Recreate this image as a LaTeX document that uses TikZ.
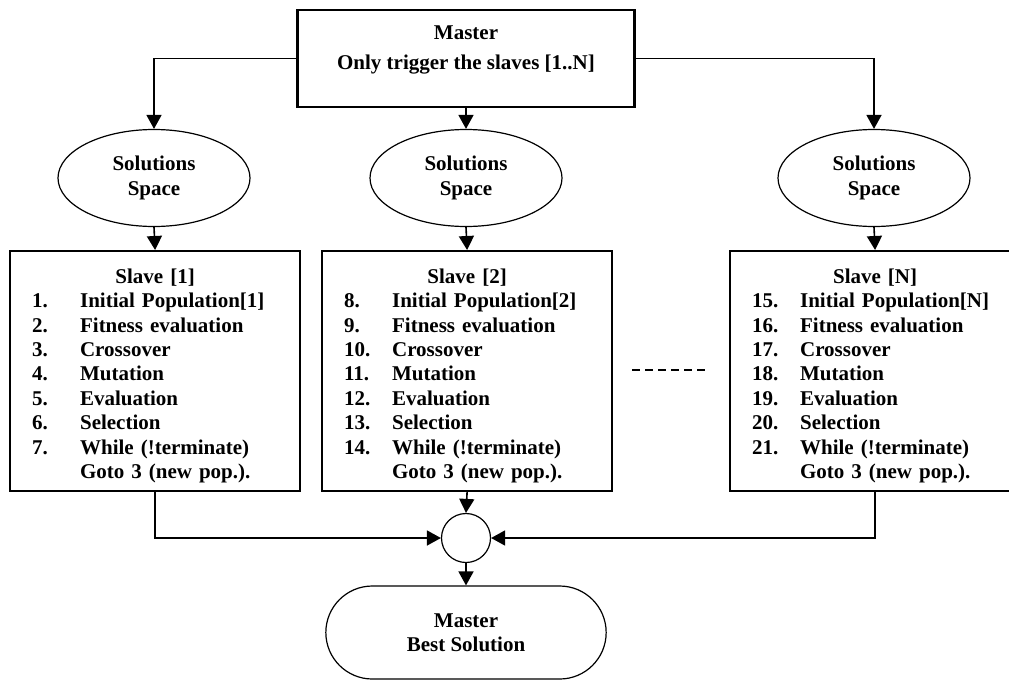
\documentclass[tikz,border=0pt]{standalone}
\usepackage{fontspec}
\setmainfont{Liberation Serif}
\usepackage{tikz}
\usetikzlibrary{arrows.meta,shapes.geometric,shapes.misc,positioning}
\tikzset{
  arr/.style={line width=1.6pt, -{Triangle[length=14pt,width=15pt]}},
  solspace/.style={draw, ellipse, line width=1.2pt, minimum width=192pt,
    minimum height=97pt, inner sep=0pt, align=center},
  slavebox/.style={draw, line width=2.2pt, anchor=north west,
    minimum height=240pt, text width=246pt, inner xsep=22pt, inner ysep=0pt,
    align=left},
}
% steps of one slave: #1 slave index, #2 first step number
\newcommand{\slavesteps}[2]{%
  \noindent\begin{tabular}{@{}p{48pt}@{}l@{}}
    \multicolumn{2}{@{}c@{}}{\makebox[246pt]{\rule{0pt}{27pt}Slave [#1]}}\\
    \the\numexpr#2\relax. & Initial Population[#1]\\
    \the\numexpr#2+1\relax. & Fitness evaluation\\
    \the\numexpr#2+2\relax. & Crossover\\
    \the\numexpr#2+3\relax. & Mutation\\
    \the\numexpr#2+4\relax. & Evaluation\\
    \the\numexpr#2+5\relax. & Selection\\
    \the\numexpr#2+6\relax. & While (!terminate)\\
     & Goto 3 (new pop.).
  \end{tabular}}

\begin{document}
\begin{tikzpicture}[x=1pt, y=-1pt, font=\fontsize{21}{24.4}\selectfont\bfseries]
  \useasboundingbox (0,0) rectangle (1009,681);

  \node[draw, line width=2.4pt, minimum width=337pt, minimum height=97pt,
    align=center, font=\fontsize{21}{30}\selectfont\bfseries] (master) at (466,58.5)
    {Master\\Only trigger the slaves [1..N]\rule[-22pt]{0pt}{0pt}};

  % solution spaces
  \node[solspace] (sol1) at (154,178) {Solutions\\Space};
  \node[solspace] (sol2) at (466,178) {Solutions\\Space};
  \node[solspace] (sol3) at (874,178) {Solutions\\Space};

  % slaves
  \node[slavebox] (slave1) at (9,250) {\slavesteps{1}{1}};
  \node[slavebox] (slave2) at (321,250) {\slavesteps{2}{8}};
  \node[slavebox] (slaveN) at (729,250) {\slavesteps{N}{15}};

  \node[draw, circle, line width=1.2pt, minimum size=49pt, inner sep=0pt] (join) at (466,538) {};
  \node[draw, rounded rectangle, line width=1.2pt, minimum width=287pt,
    minimum height=93pt, align=center] (best) at (466,632.5) {Master\\Best Solution};

  \draw[arr] (master.west) -| (sol1.north);
  \draw[arr] (master.south) -- (sol2.north);
  \draw[arr] (master.east) -| (sol3.north);
  \foreach \s/\b in {sol1/slave1,sol2/slave2,sol3/slaveN}
    \draw[arr] (\s.south) -- (\b.north);

  \draw[arr] (slave1.south) |- (join.west);
  \draw[arr] (slave2.south) -- (join.north);
  \draw[arr] (slaveN.south) |- (join.east);
  \draw[arr] (join.south) -- (best.north);

  % more slaves
  \draw[line width=1.6pt, dash pattern=on 8pt off 5pt] (632,370) -- (705,370);
\end{tikzpicture}
\end{document}
